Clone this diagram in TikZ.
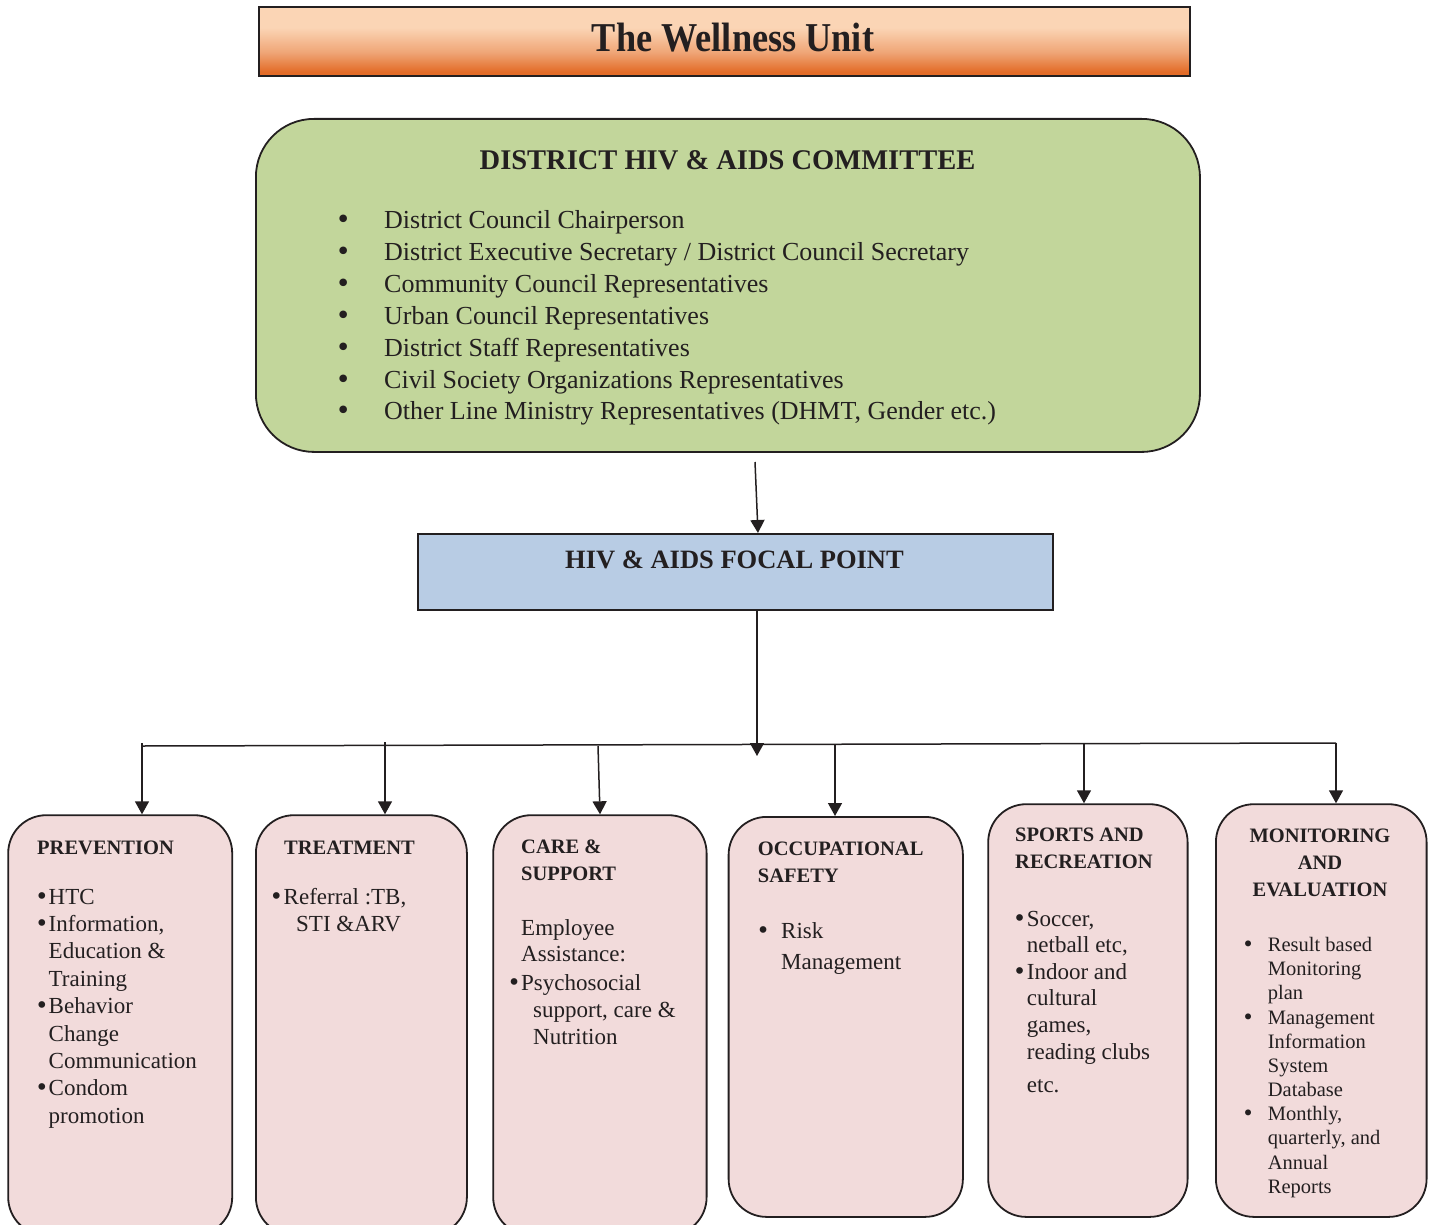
\documentclass[tikz,border=0pt]{standalone}
\usepackage{fontspec}
\usepackage{graphicx}
\setmainfont{Liberation Serif}
\newfontfamily\bulfont{DejaVu Sans}
\usetikzlibrary{arrows.meta}
\definecolor{ink}{RGB}{35,31,32}
\definecolor{cmgreen}{RGB}{194,214,155}
\definecolor{fpblue}{RGB}{184,204,228}
\definecolor{unitpink}{RGB}{242,219,219}
\definecolor{orL}{RGB}{251,213,181}
\definecolor{orM}{RGB}{239,165,118}
\definecolor{orD}{RGB}{227,108,40}
\pgfdeclareverticalshading{wellshade}{100bp}{color(0bp)=(orD); color(28bp)=(orD); color(42bp)=(orM); color(60bp)=(orL); color(100bp)=(orL)}
% bullet hanging to the left of a line, centred #1 to the left of the text start
\newcommand\bl[1]{\llap{\makebox[0pt][c]{\bulfont\textbullet}\hspace{#1}}}
\newenvironment{rows}{\begin{tabular}[t]{@{}l@{}}}{\end{tabular}}
\begin{document}
\begin{tikzpicture}[x=1pt,y=-1pt,
  box/.style={draw=ink, line width=1.8pt, inner sep=0pt, anchor=north west},
  unit/.style={box, fill=unitpink, rounded corners=38pt},
  conn/.style={draw=ink, line width=1.5pt},
  arr/.style={conn, -{Triangle[width=14pt,length=13pt]}},
  hd/.style={font=\fontsize{20.5}{24}\selectfont\bfseries, text=ink, inner sep=0pt},
  txt/.style={text=ink, inner sep=0pt, anchor=base west}]
\useasboundingbox (0,0) rectangle (1434,1225);
\clip (0,0) rectangle (1434,1225);

% ---------- title ----------
\node[box, shade, shading=wellshade, minimum width=931pt, minimum height=69pt] (title) at (258,6) {};
\node[font=\fontsize{41}{45}\selectfont\bfseries, text=ink, inner sep=0pt, anchor=base] (titletxt) at (733,52) {\scalebox{0.885}[1]{The Wellness Unit}};

% ---------- committee ----------
\node[box, fill=cmgreen, rounded corners=58pt, minimum width=944pt, minimum height=333pt] (cm) at (255,118) {};
\node[font=\fontsize{28.5}{32}\selectfont\bfseries, text=ink, inner sep=0pt, anchor=base] (cmhead) at (727.5,170) {DISTRICT HIV \& AIDS COMMITTEE};
\node[txt, font=\fontsize{26}{31.8}\selectfont] (cmlist) at (384,229) {\begin{rows}
\bl{41pt}District Council Chairperson\\
\bl{41pt}District Executive Secretary / District Council Secretary\\
\bl{41pt}Community Council Representatives\\
\bl{41pt}Urban Council Representatives\\
\bl{41pt}District Staff Representatives\\
\bl{41pt}Civil Society Organizations Representatives\\
\bl{41pt}Other Line Ministry Representatives (DHMT, Gender etc.)
\end{rows}};

% ---------- focal point ----------
\node[box, fill=fpblue, line width=1.6pt, minimum width=635pt, minimum height=76pt] (fp) at (417,533) {};
\node[font=\fontsize{26.5}{30}\selectfont\bfseries, text=ink, inner sep=0pt, anchor=base] (fptxt) at (734.5,568) {HIV \& AIDS FOCAL POINT};

% ---------- unit boxes ----------
\node[unit, minimum width=224pt, minimum height=420pt] (prev) at (7.3,814.3) {};
\node[unit, minimum width=211pt, minimum height=420pt] (treat) at (255,814.3) {};
\node[unit, minimum width=213.4pt, minimum height=420pt] (care) at (492.3,814.3) {};
\node[unit, minimum width=234.3pt, minimum height=400pt] (occ) at (727.7,816) {};
\node[unit, minimum width=199.4pt, minimum height=412.7pt] (sport) at (987.3,803.3) {};
\node[unit, minimum width=210.7pt, minimum height=412.7pt] (mne) at (1215,803.3) {};

% ---------- connectors ----------
\coordinate (cmout) at (755,462);
\coordinate (fpin) at (758,533);
\draw[arr] (cmout) -- (fpin);
\coordinate (hub) at (757,756);
\draw[arr] (fp.south -| hub) -- (hub);
\coordinate (busL) at (142,746);
\coordinate (busR) at (1336,743);
\draw[conn] (busL) -- (busR);
\coordinate (dP) at (142,743);
\draw[arr] (dP) -- (dP |- prev.north);
\coordinate (dT) at (385,742);
\draw[arr] (dT) -- (dT |- treat.north);
\coordinate (dC) at (598,746);
\coordinate (eC) at (600,0);
\draw[arr] (dC) -- (eC |- care.north);
\coordinate (dO) at (835,745);
\draw[arr] (dO) -- (dO |- occ.north);
\coordinate (dS) at (1084,744);
\draw[arr] (dS) -- (dS |- sport.north);
\draw[arr] (busR) -- (busR |- mne.north);

% ---------- prevention ----------
\node[hd, anchor=base west] (prev-h) at (37,854) {PREVENTION};
\node[txt, font=\fontsize{23}{27.4}\selectfont] (prev-body) at (48.5,904) {\begin{rows}
\bl{6.8pt}HTC\\
\bl{6.8pt}Information,\\
Education \&\\
Training\\
\bl{6.8pt}Behavior\\
Change\\
Communication\\
\bl{6.8pt}Condom\\
promotion
\end{rows}};

% ---------- treatment ----------
\node[hd, anchor=base west] (treat-h) at (284,854) {TREATMENT};
\node[txt, font=\fontsize{23}{27}\selectfont] (treat-body) at (283.5,904) {\begin{rows}
\bl{7.3pt}Referral :TB,\\
\hspace{12.5pt}STI \&ARV
\end{rows}};

% ---------- care & support ----------
\node[hd, anchor=base west] (care-h1) at (521,853.5) {CARE \&};
\node[hd, anchor=base west] (care-h2) at (521,880) {SUPPORT};
\node[txt, font=\fontsize{23}{27}\selectfont] (care-body) at (521,935.7) {\begin{rows}
Employee\\[-1pt]
Assistance:\\[1.3pt]
\bl{7pt}Psychosocial\\
\hspace{12pt}support, care \&\\
\hspace{12pt}Nutrition
\end{rows}};

% ---------- occupational safety ----------
\node[hd, anchor=base west] (occ-h1) at (757.7,855) {OCCUPATIONAL};
\node[hd, anchor=base west] (occ-h2) at (757.7,882.7) {SAFETY};
\node[txt, font=\fontsize{23}{31}\selectfont] (occ-body) at (781,938) {\begin{rows}
\bl{18pt}Risk\\
Management
\end{rows}};

% ---------- sports ----------
\node[hd, anchor=base west] (sport-h1) at (1015,841) {SPORTS AND};
\node[hd, anchor=base west] (sport-h2) at (1015,868) {RECREATION};
\node[txt, font=\fontsize{23}{26.6}\selectfont] (sport-body) at (1026.7,926) {\begin{rows}
\bl{7.2pt}Soccer,\\
netball etc,\\
\bl{7.2pt}Indoor and\\
cultural\\
games,\\
reading clubs\\[6.8pt]
etc.
\end{rows}};

% ---------- monitoring & evaluation ----------
\node[hd, anchor=base] (mne-h1) at (1320,842) {MONITORING};
\node[hd, anchor=base] (mne-h2) at (1320,869) {AND};
\node[hd, anchor=base] (mne-h3) at (1320,896.7) {EVALUATION};
\node[txt, font=\fontsize{20.5}{24.17}\selectfont] (mne-body) at (1267.7,951.5) {\begin{rows}
\bl{19.7pt}Result based\\
Monitoring\\
plan\\
\bl{19.7pt}Management\\
Information\\
System\\
Database\\
\bl{19.7pt}Monthly,\\
quarterly, and\\
Annual\\
Reports
\end{rows}};
\end{tikzpicture}
\end{document}
